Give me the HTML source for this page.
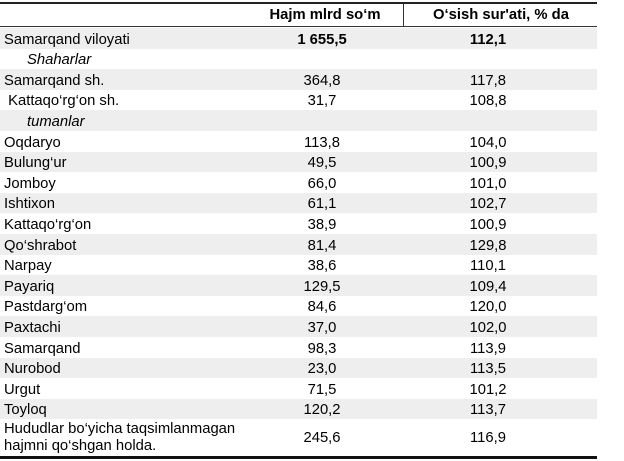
<!DOCTYPE html>
<html><head><meta charset="utf-8"><style>
body{margin:0;width:624px;height:461px;background:#fff;font-family:"Liberation Sans",Arial,sans-serif;font-size:14.8px;color:#000;position:relative;overflow:hidden}
.r{position:absolute;left:0;width:597px;height:20.6px}
.g{background:#eeeeee}
.t{position:absolute;white-space:nowrap;line-height:20.6px}
.a{left:4px}
.b{left:262px;width:120px;text-align:center}
.c{left:428px;width:120px;text-align:center}
</style></head><body>
<div style="position:absolute;left:0;top:2px;width:597px;height:2px;background:#222"></div>
<div style="position:absolute;left:0;top:26px;width:597px;height:1px;background:#333"></div>
<div style="position:absolute;left:403px;top:4px;width:1px;height:22px;background:#333"></div>
<div class="t" style="left:255px;width:140px;text-align:center;top:5px;font-weight:bold">Hajm mlrd so‘m</div>
<div class="t" style="left:415px;width:172px;text-align:center;top:5px;font-weight:bold">O‘sish sur'ati, % da</div>
<div id="rows"></div>
<div style="position:absolute;left:0;top:456px;width:597px;height:3px;background:#111"></div>
<script>
var d=[["Samarqand viloyati","1 655,5","112,1",1],["Shaharlar","","",2],["Samarqand sh.","364,8","117,8"],[" Kattaqo‘rg‘on sh.","31,7","108,8"],["tumanlar","","",2],["Oqdaryo","113,8","104,0"],["Bulung‘ur","49,5","100,9"],["Jomboy","66,0","101,0"],["Ishtixon","61,1","102,7"],["Kattaqo‘rg‘on","38,9","100,9"],["Qo‘shrabot","81,4","129,8"],["Narpay","38,6","110,1"],["Payariq","129,5","109,4"],["Pastdarg‘om","84,6","120,0"],["Paxtachi","37,0","102,0"],["Samarqand","98,3","113,9"],["Nurobod","23,0","113,5"],["Urgut","71,5","101,2"],["Toyloq","120,2","113,7"]];
var h="";
d.forEach(function(r,i){var y=28+i*20.6,ty=y+1.5;
h+='<div class="r'+(i%2==0?' g':'')+'" style="top:'+y+'px"></div>';
var st=r[3]==1?'font-weight:bold;':'';
if(r[3]==2){h+='<div class="t" style="left:27px;font-style:italic;top:'+ty+'px">'+r[0]+'</div>';}
else{h+='<div class="t a" style="top:'+ty+'px;white-space:pre">'+r[0]+'</div>';
h+='<div class="t b" style="'+st+'top:'+ty+'px">'+r[1]+'</div><div class="t c" style="'+st+'top:'+ty+'px">'+r[2]+'</div>';}
});
var y=28+19*20.6;
h+='<div class="t a" style="top:'+(y+2)+'px;line-height:17px">Hududlar bo‘yicha taqsimlanmagan<br>hajmni qo‘shgan holda.</div>';
h+='<div class="t b" style="top:'+(y+9)+'px">245,6</div><div class="t c" style="top:'+(y+9)+'px">116,9</div>';
document.getElementById("rows").innerHTML=h;
</script>
</body></html>
